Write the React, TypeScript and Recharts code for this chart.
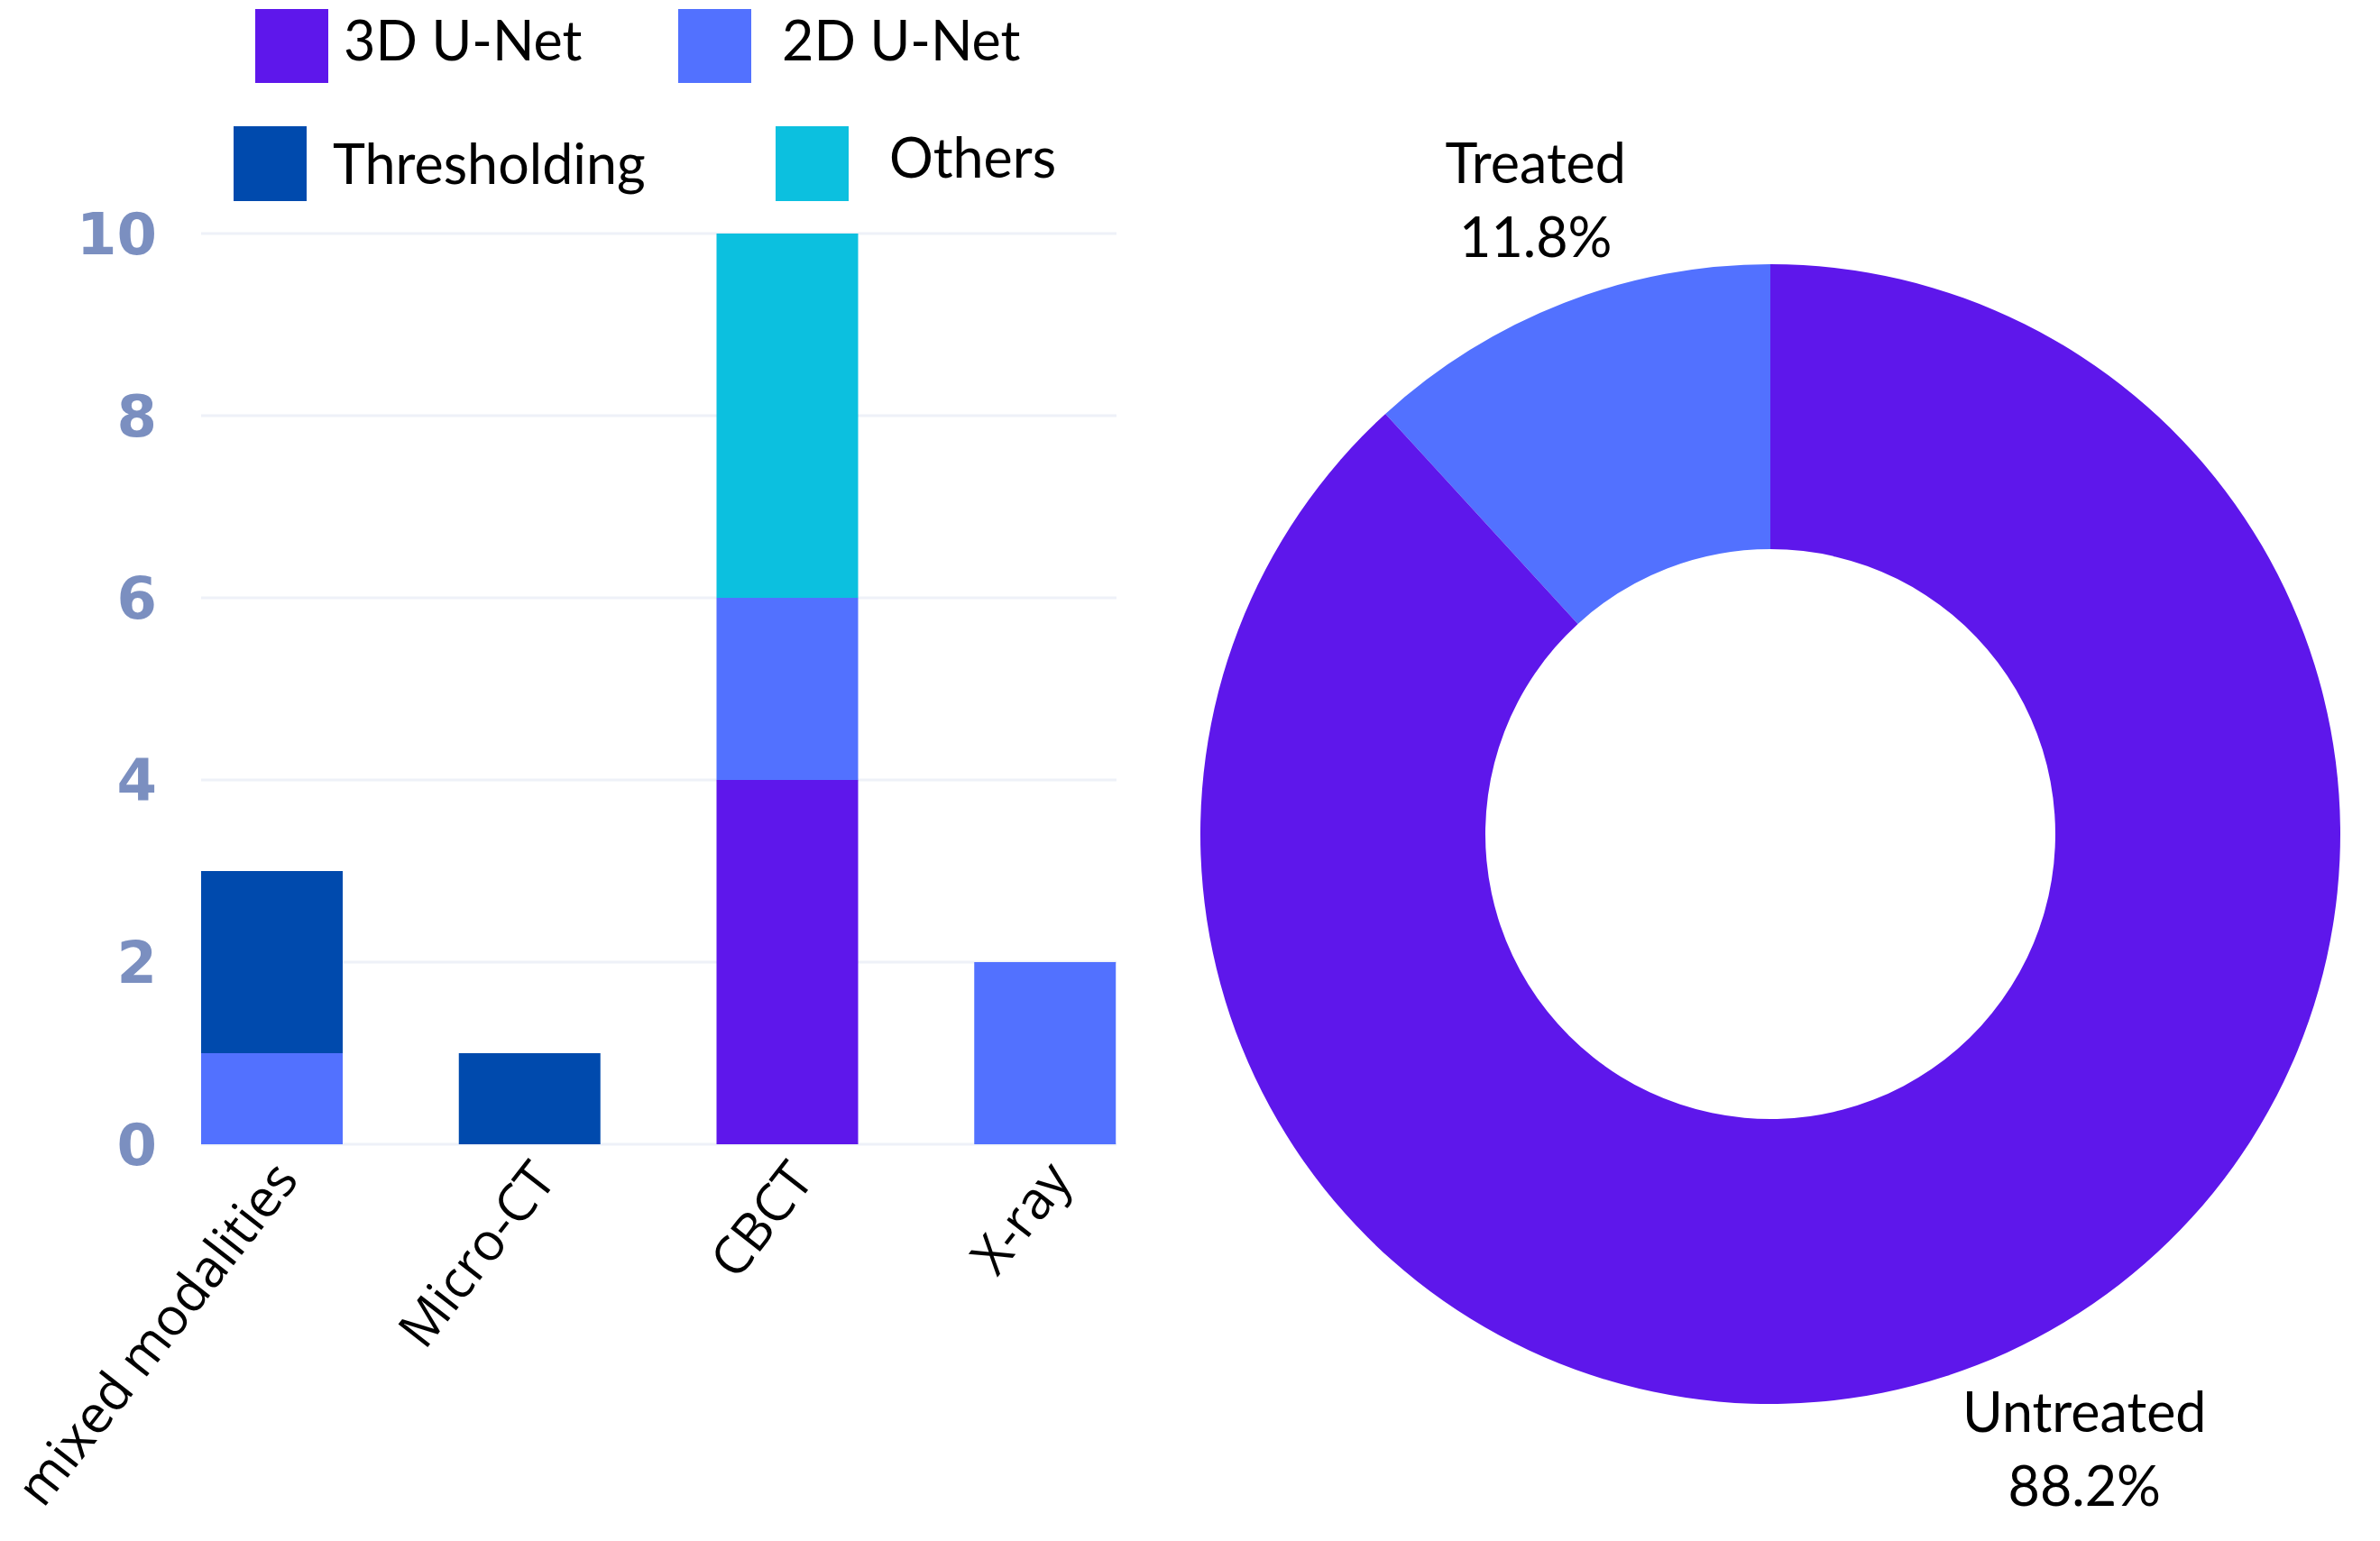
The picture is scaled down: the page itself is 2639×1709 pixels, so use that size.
import { BarChart, Bar, XAxis, YAxis, CartesianGrid, PieChart, Pie, Cell } from 'recharts';

// segmentation methods per imaging modality (stacked counts)
const modalities = ['mixed modalities', 'Micro-CT', 'CBCT', 'X-ray'];
const unet3d = [0, 0, 4, 0];
const unet2d = [1, 0, 2, 2];
const thresholding = [2, 1, 0, 0];
const others = [0, 0, 4, 0];
const yTicks = [0, 2, 4, 6, 8, 10];

const methodKeys = ['unet3d', 'unet2d', 'thresholding', 'others'];
const methodNames = ['3D U-Net', '2D U-Net', 'Thresholding', 'Others'];
const methodColors = ['#5e17eb', '#5271ff', '#004aad', '#0cc0df'];

// donut
const treatmentNames = ['Treated', 'Untreated'];
const treatmentShares = [11.8, 88.2];
const treatmentColors = ['#5271ff', '#5e17eb'];

const barData = modalities.map((m, i) => ({
  modality: m,
  unet3d: unet3d[i],
  unet2d: unet2d[i],
  thresholding: thresholding[i],
  others: others[i],
}));

const pieData = treatmentNames.map((n, i) => ({ name: n, value: treatmentShares[i] }));

const LABEL_FONT = "Lato, 'Open Sans', sans-serif";
const RAD = Math.PI / 180;

// small hand tweaks so the donut labels sit where the original put them
const labelNudge: Record<string, [number, number]> = {
  Treated: [14, 3],
  Untreated: [74, -24],
};

function ModalityTick({ x, y, payload }: any) {
  return (
    <g transform={`translate(${x + 31},${y + 40})`}>
      <text
        textAnchor="end"
        transform="rotate(-52)"
        fontFamily="'Open Sans', sans-serif"
        fontSize={58}
        fill="#000"
      >
        {payload.value}
      </text>
    </g>
  );
}

function TreatmentLabel(props: any) {
  const { cx, cy, midAngle, outerRadius, payload, value } = props;
  const r = outerRadius + 125;
  const [nx, ny] = labelNudge[payload.name] || [0, 0];
  const x = cx + r * Math.cos(-midAngle * RAD) + nx;
  const y = cy + r * Math.sin(-midAngle * RAD) + ny;
  return (
    <text x={x} y={y} textAnchor="middle" fontFamily={LABEL_FONT} fontSize={61} fill="#000">
      <tspan x={x} dy={-19}>{payload.name}</tspan>
      <tspan x={x} dy={82}>{Number(value).toFixed(1)}%</tspan>
    </text>
  );
}

// legend boxes laid out in two rows like the original
const legendLayout = [
  { box: [283, 10, 81, 82], text: [381, 67] },
  { box: [752, 10, 81, 82], text: [867, 67] },
  { box: [259, 140, 81, 83], text: [369, 204] },
  { box: [860, 140, 81, 83], text: [986, 197] },
];

function MethodLegend() {
  return (
    <svg width={1300} height={240} style={{ position: 'absolute', left: 0, top: 0 }}>
      {methodNames.map((name, i) => {
        const { box, text } = legendLayout[i];
        return (
          <g key={name}>
            <rect x={box[0]} y={box[1]} width={box[2]} height={box[3]} fill={methodColors[i]} />
            <text x={text[0]} y={text[1]} fontFamily={LABEL_FONT} fontSize={61} fill="#000">
              {name}
            </text>
          </g>
        );
      })}
    </svg>
  );
}

export default function App() {
  return (
    <div style={{ position: 'absolute', left: 0, top: 0, width: 2639, height: 1709, background: '#fff' }}>
      <div style={{ position: 'absolute', left: 0, top: 0 }}>
        <BarChart
          width={1300}
          height={1709}
          data={barData}
          margin={{ top: 259, right: 62, bottom: 0, left: 0 }}
        >
          <CartesianGrid vertical={false} stroke="#eef1f8" strokeWidth={3} />
          <XAxis
            dataKey="modality"
            axisLine={false}
            tickLine={false}
            tickSize={0}
            tickMargin={0}
            height={440}
            interval={0}
            padding={{ left: -64, right: -64 }}
            tick={<ModalityTick />}
          />
          <YAxis
            domain={[0, 10]}
            ticks={yTicks}
            width={223}
            axisLine={false}
            tickLine={false}
            tickSize={0}
            tickMargin={49}
            tick={{ fill: '#7b8fc0', fontSize: 64, fontWeight: 700, fontFamily: "'DejaVu Sans', sans-serif" }}
          />
          {methodKeys.map((k, i) => (
            <Bar
              key={k}
              dataKey={k}
              name={methodNames[i]}
              stackId="m"
              fill={methodColors[i]}
              barSize={157}
              isAnimationActive={false}
            />
          ))}
        </BarChart>
      </div>
      <MethodLegend />
      <div style={{ position: 'absolute', left: 1300, top: 0 }}>
        <PieChart width={1339} height={1709} margin={{ top: 0, right: 0, bottom: 0, left: 0 }}>
          <Pie
            data={pieData}
            dataKey="value"
            nameKey="name"
            cx={663}
            cy={925}
            outerRadius={632}
            innerRadius={316}
            startAngle={90}
            endAngle={450}
            stroke="none"
            labelLine={false}
            label={TreatmentLabel}
            isAnimationActive={false}
          >
            {pieData.map((d, i) => (
              <Cell key={d.name} fill={treatmentColors[i]} stroke="none" />
            ))}
          </Pie>
        </PieChart>
      </div>
    </div>
  );
}
